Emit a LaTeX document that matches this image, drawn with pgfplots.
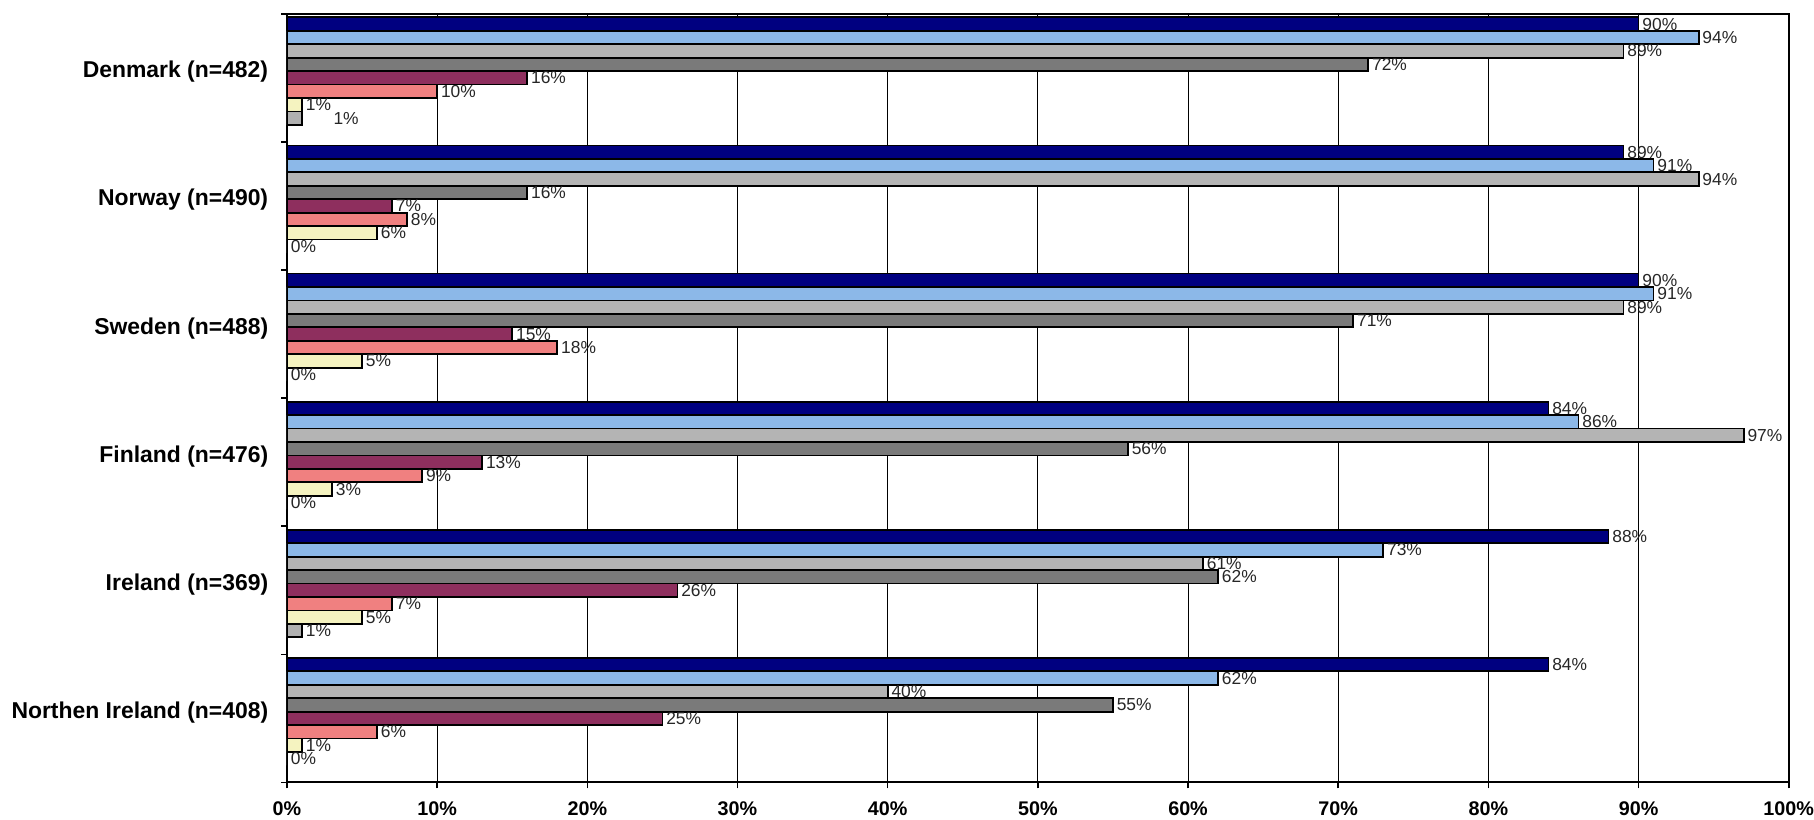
\documentclass[border=0pt]{standalone}
\usepackage{pgfplots}
\pgfplotsset{compat=1.18}
\usepackage{fontspec}
\setmainfont{Liberation Sans}
\definecolor{c1}{HTML}{000080}
\definecolor{c2}{HTML}{8CB8E8}
\definecolor{c3}{HTML}{B4B4B4}
\definecolor{c4}{HTML}{7A7A7A}
\definecolor{c5}{HTML}{8E2F5E}
\definecolor{c6}{HTML}{F08080}
\definecolor{c7}{HTML}{F5F3C0}
\definecolor{c8}{HTML}{B0B0B0}
\begin{document}
\begin{tikzpicture}
\begin{axis}[
  scale only axis,
  width=760pt, height=389pt,
  xbar,
  xmin=0, xmax=100,
  ymin=-0.5, ymax=5.5,
  bar width=0.105,
  /pgf/number format/assume math mode=true,
  axis line style={line width=1pt},
  xtick={0,10,...,100},
  xticklabels={0\%,10\%,20\%,30\%,40\%,50\%,60\%,70\%,80\%,90\%,100\%},
  xticklabel style={font=\bfseries\fontsize{10}{12}\selectfont, inner ysep=2pt, inner xsep=0pt, yshift=-4.4pt},
  xmajorgrids,
  major grid style={black, line width=0.5pt},
  tick align=outside,
  tick pos=left,
  major tick length=3pt,
  tick style={black, line width=0.8pt},
  ytick={-0.5,0.5,...,5.5},
  yticklabels={},
  extra y ticks={0,1,2,3,4,5},
  extra y tick labels={{Northen Ireland (n=408)},{Ireland (n=369)},{Finland (n=476)},{Sweden (n=488)},{Norway (n=490)},{Denmark (n=482)}},
  extra y tick style={major tick length=0pt, ymajorgrids=false},
  yticklabel style={font=\bfseries\fontsize{11.6}{13}\selectfont, xshift=-6pt, yshift=3pt},
  point meta=x,
  nodes near coords={\pgfmathprintnumber{\pgfplotspointmeta}\%},
  nodes near coords style={font=\fontsize{8.8}{10}\selectfont, anchor=west, inner sep=1.5pt, black!85},
  every axis plot/.append style={draw=black, line width=0.9pt},
]
\addplot[fill=c1, bar shift=0.42] coordinates {(90,5) (89,4) (90,3) (84,2) (88,1) (84,0)};
\addplot[fill=c2, bar shift=0.315] coordinates {(94,5) (91,4) (91,3) (86,2) (73,1) (62,0)};
\addplot[fill=c3, bar shift=0.21] coordinates {(89,5) (94,4) (89,3) (97,2) (61,1) (40,0)};
\addplot[fill=c4, bar shift=0.105] coordinates {(72,5) (16,4) (71,3) (56,2) (62,1) (55,0)};
\addplot[fill=c5, bar shift=0] coordinates {(16,5) (7,4) (15,3) (13,2) (26,1) (25,0)};
\addplot[fill=c6, bar shift=-0.105] coordinates {(10,5) (8,4) (18,3) (9,2) (7,1) (6,0)};
\addplot[fill=c7, bar shift=-0.21] coordinates {(1,5) (6,4) (5,3) (3,2) (5,1) (1,0)};
\addplot[fill=c8, bar shift=-0.315,
  visualization depends on={rawy \as \rawyval},
  nodes near coords style={xshift={14*(\rawyval>4.5)}}]
  coordinates {(1,5) (0,4) (0,3) (0,2) (1,1) (0,0)};
\end{axis}
\path ([yshift=7pt]current axis.north east) ++(11pt,0) coordinate (tr);
\path (tr);
\path ([xshift=-2.5pt]current axis.outer west);
\end{tikzpicture}
\end{document}
